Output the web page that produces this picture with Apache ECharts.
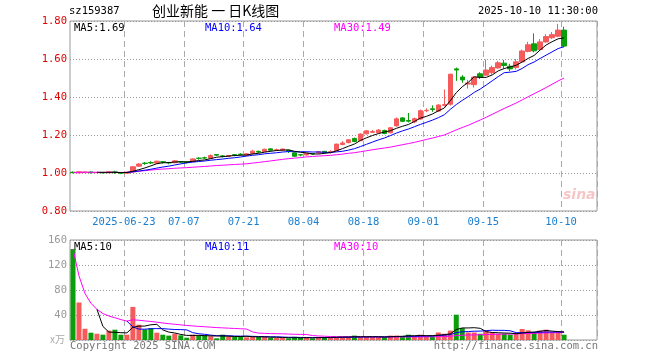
<!DOCTYPE html>
<html>
<head>
<meta charset="utf-8">
<script src="https://cdn.jsdelivr.net/npm/echarts@6/dist/echarts.min.js"></script>
<style>
html,body{margin:0;padding:0;background:#fff;}
#c{width:660px;height:360px;}
</style>
</head>
<body>
<div id="c"></div>
<script>
// ---- data ----
const dates = [
'2025-06-10','2025-06-11','2025-06-12','2025-06-13','2025-06-16','2025-06-17','2025-06-18','2025-06-19','2025-06-20',
'2025-06-23','2025-06-24','2025-06-25','2025-06-26','2025-06-27','2025-06-30',
'2025-07-01','2025-07-02','2025-07-03','2025-07-04','2025-07-07','2025-07-08','2025-07-09','2025-07-10','2025-07-11',
'2025-07-14','2025-07-15','2025-07-16','2025-07-17','2025-07-18','2025-07-21','2025-07-22','2025-07-23','2025-07-24',
'2025-07-25','2025-07-28','2025-07-29','2025-07-30','2025-07-31',
'2025-08-01','2025-08-04','2025-08-05','2025-08-06','2025-08-07','2025-08-08','2025-08-11','2025-08-12','2025-08-13',
'2025-08-14','2025-08-15','2025-08-18','2025-08-19','2025-08-20','2025-08-21','2025-08-22','2025-08-25','2025-08-26',
'2025-08-27','2025-08-28','2025-08-29',
'2025-09-01','2025-09-02','2025-09-03','2025-09-04','2025-09-05','2025-09-08','2025-09-09','2025-09-10','2025-09-11',
'2025-09-12','2025-09-15','2025-09-16','2025-09-17','2025-09-18','2025-09-19','2025-09-22','2025-09-23','2025-09-24',
'2025-09-25','2025-09-26','2025-09-29','2025-09-30',
'2025-10-09','2025-10-10'
];
const blankSlots = 5;
const opens  = [1.004,1.001,1.002,1.005,1.002,1.003,1.001,1.006,1.002,0.999,
                1.006,1.036,1.052,1.055,1.052,1.059,1.055,1.054,1.060,1.059,
                1.060,1.078,1.080,1.078,1.097,1.090,1.088,1.096,1.099,1.094,
                1.103,1.114,1.112,1.127,1.121,1.120,1.120,1.106,1.096,1.095,
                1.102,1.106,1.114,1.110,1.118,1.150,1.160,1.182,1.170,1.206,
                1.214,1.212,1.224,1.212,1.248,1.290,1.276,1.270,1.284,1.328,
                1.338,1.326,1.356,1.362,1.548,1.505,1.468,1.465,1.522,1.515,
                1.528,1.553,1.578,1.562,1.555,1.585,1.640,1.680,1.650,1.690,
                1.712,1.720,1.752];
const closes = [1.002,1.006,1.005,1.002,1.003,1.001,1.006,1.003,0.999,1.004,
                1.033,1.047,1.050,1.053,1.062,1.057,1.053,1.064,1.058,1.056,
                1.074,1.077,1.079,1.092,1.094,1.088,1.092,1.095,1.098,1.101,
                1.115,1.110,1.125,1.120,1.122,1.126,1.115,1.088,1.095,1.104,
                1.100,1.112,1.107,1.112,1.152,1.158,1.175,1.166,1.205,1.222,
                1.218,1.226,1.208,1.238,1.285,1.272,1.273,1.286,1.328,1.330,
                1.334,1.358,1.360,1.520,1.542,1.490,1.474,1.505,1.505,1.542,
                1.555,1.580,1.566,1.548,1.585,1.642,1.675,1.643,1.690,1.718,
                1.728,1.752,1.668];
const lows   = [0.998,0.999,1.000,0.997,1.000,0.998,1.000,0.996,0.994,0.998,
                1.004,1.032,1.043,1.047,1.050,1.050,1.046,1.052,1.052,1.050,
                1.058,1.070,1.074,1.076,1.090,1.082,1.085,1.088,1.092,1.091,
                1.098,1.104,1.110,1.114,1.115,1.117,1.105,1.085,1.088,1.092,
                1.096,1.100,1.102,1.102,1.115,1.146,1.156,1.162,1.168,1.203,
                1.212,1.208,1.204,1.208,1.244,1.268,1.266,1.262,1.280,1.320,
                1.322,1.322,1.350,1.355,1.485,1.475,1.445,1.450,1.495,1.512,
                1.518,1.548,1.550,1.535,1.545,1.580,1.635,1.635,1.642,1.685,
                1.705,1.715,1.662];
const highs  = [1.008,1.008,1.007,1.009,1.005,1.004,1.008,1.012,1.004,1.006,
                1.036,1.052,1.058,1.062,1.065,1.063,1.058,1.067,1.063,1.062,
                1.077,1.083,1.086,1.098,1.098,1.094,1.095,1.100,1.104,1.104,
                1.122,1.118,1.128,1.130,1.128,1.129,1.122,1.108,1.100,1.106,
                1.104,1.114,1.116,1.120,1.154,1.168,1.178,1.186,1.208,1.226,
                1.226,1.230,1.228,1.242,1.292,1.294,1.316,1.292,1.334,1.340,
                1.356,1.362,1.440,1.522,1.555,1.515,1.490,1.510,1.530,1.598,
                1.565,1.590,1.595,1.575,1.600,1.650,1.690,1.735,1.705,1.730,
                1.742,1.785,1.770];
// volume, unit: 万
const volumes = [145.5,60,18,11.7,10,8.5,15,16.5,8.5,8.5,
                 53,24.5,17,19,11.7,8.5,7,10,7.5,3.7,
                 8.5,7.5,7.5,6,2.7,8.5,6,5,6,4.3,
                 5,5,5,3.7,3.2,3.7,2.7,5,3.2,3.7,
                 2.7,4.8,4.8,4.8,4.8,4.8,4.8,7,4.8,4.8,
                 4.8,4.8,4.8,7,7,6,8.5,6,8.5,6,
                 6,12,10,15,40.5,19,12,12,10,14,
                 12,10,10,8.5,10,17.6,15.5,12,15,16.5,
                 12,12,8.5];
const tickDates  = ['2025-06-23','2025-07-07','2025-07-21','2025-08-04','2025-08-18','2025-09-01','2025-09-15','2025-10-10'];
const tickLabels = ['2025-06-23','07-07','07-21','08-04','08-18','09-01','09-15','10-10'];
const priceTicks = [0.80,1.00,1.20,1.40,1.60,1.80];
const volTicks = [0,40,80,120,160];
const priceMALabels = ['MA5:1.69','MA10:1.64','MA30:1.49'];
const volMALabels = ['MA5:10','MA10:11','MA30:10'];
const symbolCode = 'sz159387';
const titleText = '创业新能 一 日K线图';
const timeText = '2025-10-10 11:30:00';

// ---- helpers ----
function ma(arr, n, partial) {
  const out = [];
  for (let i = 0; i < arr.length; i++) {
    if (i < n - 1) {
      if (partial) {
        let s = 0; for (let j = 0; j <= i; j++) s += arr[j];
        out.push(+(s / (i + 1)).toFixed(4));
      } else out.push('-');
    } else {
      let s = 0; for (let j = i - n + 1; j <= i; j++) s += arr[j];
      out.push(+(s / n).toFixed(4));
    }
  }
  return out;
}
const cats = dates.concat(Array.from({length: blankSlots}, (_, k) => ' ' + k));
const kData = dates.map((d, i) => [opens[i], closes[i], lows[i], highs[i]]);
const RED = '#f55b5b', GREEN = '#0a9e0a';
const volData = volumes.map((v, i) => ({value: v, itemStyle: {color: closes[i] >= opens[i] ? RED : GREEN}}));
const tickIdx = new Set(tickDates.map(d => cats.indexOf(d)));
const MONO = 'DejaVu Sans Mono';
const FS = 10.5;
const GL = 70, GR = 63;

const xBase = (gi, showLabels) => ({
  type: 'category', gridIndex: gi, data: cats, boundaryGap: true,
  axisLine: {show: false}, axisTick: {show: false},
  axisLabel: showLabels ? {
    show: true, interval: (i) => tickIdx.has(i), color: '#1a7fd0', fontFamily: MONO, fontSize: FS,
    margin: 6, padding: [0, 6, 0, 0],
    formatter: (v) => { const k = tickDates.indexOf(v); return k >= 0 ? tickLabels[k] : ''; }
  } : {show: false},
  splitLine: {show: true, interval: (i) => tickIdx.has(i), lineStyle: {color: '#aaa', type: [6, 4], width: 1}}
});

const option = {
  animation: false,
  backgroundColor: '#fff',
  grid: [
    {left: GL, right: GR, top: 21, height: 190, show: true, borderColor: '#999', borderWidth: 1},
    {left: GL, right: GR, top: 240, height: 100, show: true, borderColor: '#999', borderWidth: 1}
  ],
  xAxis: [xBase(0, true), xBase(1, false)],
  yAxis: [
    {type: 'value', gridIndex: 0, min: priceTicks[0], max: priceTicks[priceTicks.length - 1], interval: 0.2,
     axisLine: {show: false}, axisTick: {show: false},
     axisLabel: {color: '#e00000', fontFamily: MONO, fontSize: FS, margin: 3, formatter: v => v.toFixed(2)},
     splitLine: {show: true, lineStyle: {color: '#999', type: [1, 2]}}},
    {type: 'value', gridIndex: 1, min: volTicks[0], max: volTicks[volTicks.length - 1], interval: 40,
     axisLine: {show: false}, axisTick: {show: false},
     axisLabel: {color: '#999', fontFamily: MONO, fontSize: FS, margin: 3, formatter: v => v === 0 ? '' : String(v)},
     splitLine: {show: true, lineStyle: {color: '#999', type: [1, 2]}}}
  ],
  series: [
    {type: 'candlestick', xAxisIndex: 0, yAxisIndex: 0, data: kData, barWidth: 5,
     itemStyle: {color: RED, color0: GREEN, borderColor: RED, borderColor0: GREEN, borderWidth: 1}},
    {type: 'line', xAxisIndex: 0, yAxisIndex: 0, data: ma(closes, 30, true), symbol: 'none', lineStyle: {color: '#ff00ff', width: 1}},
    {type: 'line', xAxisIndex: 0, yAxisIndex: 0, data: ma(closes, 10, false), symbol: 'none', lineStyle: {color: '#0000ff', width: 1}},
    {type: 'line', xAxisIndex: 0, yAxisIndex: 0, data: ma(closes, 5, false), symbol: 'none', lineStyle: {color: '#000', width: 1}},
    {type: 'bar', xAxisIndex: 1, yAxisIndex: 1, data: volData, barWidth: 5},
    {type: 'line', xAxisIndex: 1, yAxisIndex: 1, data: ma(volumes, 30, true), symbol: 'none', lineStyle: {color: '#ff00ff', width: 1}},
    {type: 'line', xAxisIndex: 1, yAxisIndex: 1, data: ma(volumes, 10, false), symbol: 'none', lineStyle: {color: '#0000ff', width: 1}},
    {type: 'line', xAxisIndex: 1, yAxisIndex: 1, data: ma(volumes, 5, false), symbol: 'none', lineStyle: {color: '#000', width: 1}}
  ],
  graphic: [
    {type: 'text', left: 69, top: 6, style: {text: symbolCode, font: FS + 'px ' + MONO, fill: '#000'}},
    {type: 'text', left: 152, top: 4, style: {text: titleText, font: '14px "Noto Sans CJK SC"', fill: '#000'}},
    {type: 'text', right: 62, top: 6, style: {text: timeText, font: FS + 'px ' + MONO, fill: '#000'}},
    {type: 'text', left: 74, top: 23, style: {text: priceMALabels[0], font: FS + 'px ' + MONO, fill: '#000'}},
    {type: 'text', left: 205, top: 23, style: {text: priceMALabels[1], font: FS + 'px ' + MONO, fill: '#0000ff'}},
    {type: 'text', left: 334, top: 23, style: {text: priceMALabels[2], font: FS + 'px ' + MONO, fill: '#ff00ff'}},
    {type: 'text', left: 74, top: 242, style: {text: volMALabels[0], font: FS + 'px ' + MONO, fill: '#000'}},
    {type: 'text', left: 205, top: 242, style: {text: volMALabels[1], font: FS + 'px ' + MONO, fill: '#0000ff'}},
    {type: 'text', left: 334, top: 242, style: {text: volMALabels[2], font: FS + 'px ' + MONO, fill: '#ff00ff'}},
    {type: 'text', left: 50, top: 334, style: {text: 'x万', font: '10px "Noto Sans CJK SC"', fill: '#aaa'}},
    {type: 'text', left: 70, top: 341, style: {text: 'Copyright 2025 SINA.COM', font: FS + 'px ' + MONO, fill: '#777'}},
    {type: 'text', right: 62, top: 341, style: {text: 'http://finance.sina.com.cn', font: FS + 'px ' + MONO, fill: '#777'}},
    {type: 'text', left: 563, top: 188, style: {text: 'sina', font: 'italic bold 14px "DejaVu Sans"', fill: 'rgba(230,90,90,0.35)'}}
  ]
};
const chart = echarts.init(document.getElementById('c'), null, {renderer: 'canvas'});
chart.setOption(option);
</script>
</body>
</html>
